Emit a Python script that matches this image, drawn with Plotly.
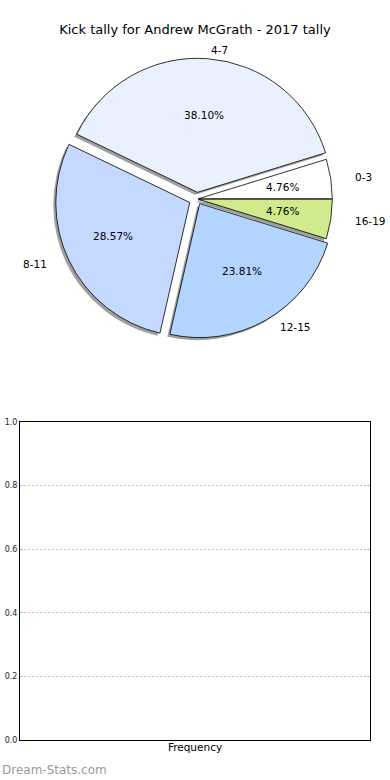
import math
import plotly.graph_objects as go

# ---- data ----
categories = ["0-3", "4-7", "8-11", "12-15", "16-19"]
counts = [1, 8, 6, 5, 1]
slice_colors = ["#ffffff", "#eaf1fe", "#c5d8ff", "#b4d5ff", "#d0eb8b"]
explode = [0.01, 0.05, 0.06, 0.04, 0.01]
yticks = [0.0, 0.2, 0.4, 0.6, 0.8, 1.0]
ytick_text = ["0.0", "0.2", "0.4", "0.6", "0.8", "1.0"]

W, H = 390, 780
FONT = "DejaVu Sans"
PCT_DIST, LABEL_DIST = 0.6, 1.1

# pie geometry (paper fractions)
cx, cy, r = 197, 199, 134
maxpull = max(explode)
half = r * (1 + maxpull)
dom_x = [(cx - half) / W, (cx + half) / W]
dom_y = [1 - (cy + half) / H, 1 - (cy - half) / H]
sdx, sdy = -2.5 / W, -2.5 / H
# overlay axes for the text labels (pie units), slightly wider than tall
K, rx_txt, ry_txt = 1.35, 142, 130
ov_x = [(cx - rx_txt * K) / W, (cx + rx_txt * K) / W]
ov_y = [1 - (cy + ry_txt * K) / H, 1 - (cy - ry_txt * K) / H]

total = sum(counts)
first_rot = 90 - 360 * counts[0] / total  # plotly: first slice starts at 3 o'clock

fig = go.Figure()

# shadow
fig.add_trace(go.Pie(
    labels=categories, values=counts, sort=False, direction="counterclockwise",
    rotation=first_rot, pull=explode, textinfo="none", hoverinfo="skip",
    marker=dict(colors=["rgba(80,80,80,0.55)"] * len(counts), line=dict(width=0)),
    domain=dict(x=[dom_x[0] + sdx, dom_x[1] + sdx], y=[dom_y[0] + sdy, dom_y[1] + sdy]),
    showlegend=False,
))
# main pie
fig.add_trace(go.Pie(
    labels=categories, values=counts, sort=False, direction="counterclockwise",
    rotation=first_rot, pull=explode, textinfo="none",
    marker=dict(colors=slice_colors, line=dict(color="#000000", width=0.8)),
    domain=dict(x=dom_x, y=dom_y), showlegend=False,
))
fig.add_trace(go.Scatter(x=[], y=[], xaxis="x2", yaxis="y2", showlegend=False))

# empty frequency chart
fig.add_trace(go.Bar(x=[], y=[], showlegend=False))

annotations = []
cum = 0
for lab, v, p in zip(categories, counts, explode):
    theta = math.radians(360 * (cum + v / 2) / total)
    cum += v
    c, s = math.cos(theta), math.sin(theta)
    annotations.append(dict(
        text="%.2f%%" % (100 * v / total), xref="x2", yref="y2",
        x=(p + PCT_DIST) * c, y=(p + PCT_DIST) * s,
        xanchor="center", yanchor="middle", showarrow=False,
        font=dict(family=FONT, size=10.5, color="#000000")))
    annotations.append(dict(
        text=lab, xref="x2", yref="y2",
        x=(p + LABEL_DIST) * c, y=(p + LABEL_DIST) * s,
        xanchor="left" if c > 0 else "right", yanchor="middle", showarrow=False,
        font=dict(family=FONT, size=10.5, color="#000000")))

annotations.append(dict(text="Dream-Stats.com", xref="paper", yref="paper",
                        x=0, y=1 - 770 / H, xanchor="left", yanchor="middle",
                        showarrow=False,
                        font=dict(family=FONT, size=12, color="#9a9a9a")))

fig.update_layout(
    width=W, height=H,
    margin=dict(l=0, r=0, t=0, b=0, autoexpand=False),
    paper_bgcolor="white", plot_bgcolor="white",
    font=dict(family=FONT, color="#000000"),
    title=dict(text="Kick tally for Andrew McGrath - 2017 tally",
               x=0.5, xanchor="center", y=1 - 29 / H, yanchor="middle",
               font=dict(family=FONT, size=13, color="#000000")),
    xaxis=dict(domain=[20 / W, 370 / W], range=[0, 1], showticklabels=False,
               showgrid=False, zeroline=False, ticks="", automargin=False,
               showline=True, linecolor="#000000", linewidth=1, mirror=True,
               title=dict(text="Frequency", standoff=3,
                          font=dict(family=FONT, size=10.5, color="#000000"))),
    yaxis=dict(domain=[40 / H, 358 / H], range=[0, 1], tickvals=yticks,
               ticktext=ytick_text, tickfont=dict(family=FONT, size=8, color="#222222"),
               showgrid=True, gridcolor="#c4c4c4", griddash="2px,2px", gridwidth=1,
               zeroline=False, ticks="inside", ticklen=3, tickcolor="#bbbbbb",
               automargin=False,
               showline=True, linecolor="#000000", linewidth=1, mirror="ticks"),
    xaxis2=dict(domain=ov_x, range=[-K, K], visible=False, automargin=False,
                anchor="y2", fixedrange=True),
    yaxis2=dict(domain=ov_y, range=[-K, K], visible=False, automargin=False,
                anchor="x2", fixedrange=True),
    annotations=annotations,
)

fig.write_html("out.html", config={"displayModeBar": False},
               post_script="document.body.style.margin='0';")
